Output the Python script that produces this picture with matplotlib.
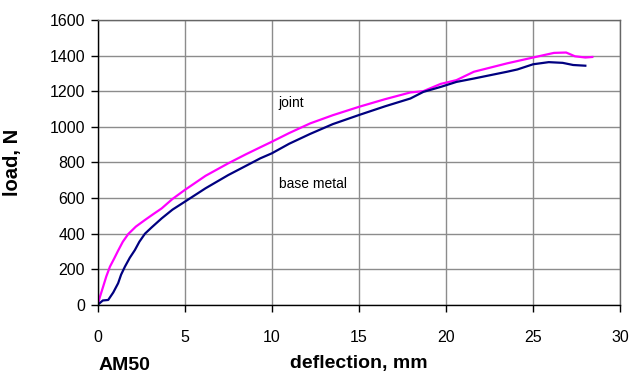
import matplotlib
matplotlib.use('Agg')
import matplotlib.pyplot as plt

plt.rcParams['font.family'] = ['Liberation Sans', 'DejaVu Sans']

# joint (pink) curve
joint_x = [0, 0.15, 0.32, 0.5, 0.71, 0.95, 1.18, 1.45, 1.76, 2.2, 2.72, 3.2, 3.68, 4.3,
           5.0, 6.2, 7.5, 8.5, 9.34, 10.0, 11.0, 12.2, 13.5, 15.0, 16.5,
           17.96, 18.7, 19.7, 20.6, 21.6, 23.5, 25.0, 26.2, 26.9, 27.4, 28.0, 28.4]
joint_y = [0, 50, 103, 160, 215, 260, 305, 355, 398, 440, 477, 510, 542, 595,
           645, 725, 795, 845, 885, 916, 965, 1019, 1065, 1112, 1155,
           1193, 1200, 1241, 1262, 1309, 1356, 1389, 1415, 1417, 1396, 1389, 1392]

# base metal (navy) curve
base_x = [0, 0.3, 0.61, 0.9, 1.18, 1.35, 1.57, 1.85, 2.14, 2.4, 2.72, 3.1, 3.68, 4.3,
          5.0, 6.2, 7.5, 8.5, 9.34, 10.0, 11.0, 12.2, 13.5,
          15.0, 16.5, 17.96, 18.7, 19.7, 20.6, 21.6, 23.5, 24.1, 25.0, 25.9, 26.7, 27.3, 28.0]
base_y = [0, 25, 28, 70, 122, 170, 215, 265, 308, 355, 400, 435, 486, 535,
          579, 655, 729, 780, 823, 851, 905, 960, 1015,
          1066, 1115, 1159, 1196, 1224, 1252, 1271, 1309, 1322, 1351, 1363, 1359, 1347, 1343]

x_ticks = [0, 5, 10, 15, 20, 25, 30]
y_ticks = [0, 200, 400, 600, 800, 1000, 1200, 1400, 1600]

fig = plt.figure(figsize=(6.42, 3.76), dpi=100)
ax = fig.add_axes([0.152, 0.189, 0.814, 0.758])

ax.plot(joint_x, joint_y, color='#FF00FF', lw=1.6)
ax.plot(base_x, base_y, color='#000080', lw=1.6)

ax.set_xlim(0, 30)
ax.set_ylim(0, 1600)
ax.set_xticks(x_ticks)
ax.set_yticks(y_ticks)
ax.grid(True, color='#8c8c8c', lw=1.0)
ax.set_axisbelow(True)

for s in ['top', 'right']:
    ax.spines[s].set_color('#666666')
    ax.spines[s].set_linewidth(1.0)
for s in ['left', 'bottom']:
    ax.spines[s].set_color('black')
    ax.spines[s].set_linewidth(1.0)

ax.tick_params(axis='both', labelsize=11.5, length=5, width=1, direction='out', pad=4)
ax.tick_params(axis='x', pad=13)

ax.set_xlabel('deflection, mm', fontsize=14, fontweight='bold', labelpad=7)
ax.set_ylabel('load, N', fontsize=14.5, fontweight='bold', labelpad=20)

ax.text(10.4, 1110, 'joint', fontsize=10)
ax.text(10.4, 655, 'base metal', fontsize=10)
fig.text(0.153, 0.016, 'AM50', fontsize=14, fontweight='bold')

fig.savefig('out.png', dpi=100)
